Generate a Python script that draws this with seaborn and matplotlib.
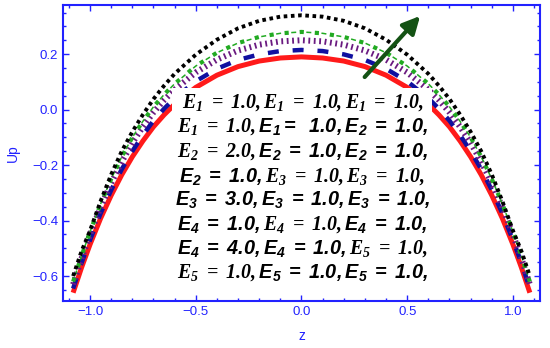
import numpy as np
import pandas as pd
import matplotlib
matplotlib.use('Agg')
import matplotlib.pyplot as plt
from matplotlib.patches import Rectangle
from matplotlib.ticker import FuncFormatter
import seaborn as sns

# velocity profiles Up(z) (symmetric about z = 0)
z_half = [0.0, 0.1, 0.2, 0.3, 0.4, 0.5, 0.6, 0.65, 0.7, 0.75, 0.8, 0.85, 0.9, 0.95, 1.0, 1.04, 1.08]
up_red = [0.190, 0.186, 0.175, 0.155, 0.124, 0.080, 0.019, -0.019, -0.062, -0.113, -0.170,
          -0.235, -0.309, -0.392, -0.486, -0.569, -0.660]
up_blue = [0.215, 0.211, 0.199, 0.179, 0.147, 0.102, 0.041, 0.003, -0.040, -0.092, -0.150,
           -0.215, -0.290, -0.374, -0.470, -0.552, -0.645]
up_purple = [0.250, 0.246, 0.234, 0.213, 0.180, 0.134, 0.072, 0.034, -0.010, -0.062, -0.120,
             -0.188, -0.265, -0.352, -0.450, -0.536, -0.630]
up_green = [0.280, 0.275, 0.262, 0.240, 0.205, 0.157, 0.093, 0.054, 0.010, -0.042, -0.100,
            -0.170, -0.250, -0.340, -0.440, -0.527, -0.620]
up_black = [0.340, 0.335, 0.320, 0.293, 0.252, 0.198, 0.129, 0.086, 0.038, -0.018, -0.080,
            -0.150, -0.234, -0.330, -0.436, -0.510, -0.600]

# text block lines: (segment, font) with 'r' = serif, 's' = sans
text_lines = [
    [('E_1 = 1.0,', 'r'), ('E_1 = 1.0,', 'r'), ('E_1 = 1.0,', 'r')],
    [('E_1 = 1.0,', 'r'), ('E_1 =\\ \\ 1.0,', 's'), ('E_2 = 1.0,', 's')],
    [('E_2 = 2.0,', 'r'), ('E_2 = 1.0,', 's'), ('E_2 = 1.0,', 's')],
    [('E_2 = 1.0,', 's'), ('E_3 = 1.0,', 'r'), ('E_3 = 1.0,', 'r')],
    [('E_3 = 3.0,', 's'), ('E_3 = 1.0,', 's'), ('E_3 = 1.0,', 's')],
    [('E_4 = 1.0,', 's'), ('E_4 = 1.0,', 'r'), ('E_4 = 1.0,', 's')],
    [('E_4 = 4.0,', 's'), ('E_4 = 1.0,', 's'), ('E_5 = 1.0,', 'r')],
    [('E_5 = 1.0,', 'r'), ('E_5 = 1.0,', 's'), ('E_5 = 1.0,', 's')],
]


def mirror(zh, uh):
    z = [-v for v in zh[::-1]] + zh[1:]
    u = uh[::-1] + uh[1:]
    return z, u


sns.set_style('ticks')
plt.rcParams['font.family'] = ['Liberation Sans', 'DejaVu Sans']
plt.rcParams['mathtext.fontset'] = 'custom'
plt.rcParams['mathtext.rm'] = 'Liberation Serif:italic:bold'
plt.rcParams['mathtext.it'] = 'Liberation Serif:italic:bold'
plt.rcParams['mathtext.sf'] = 'Liberation Sans:italic:bold'
plt.rcParams['lines.scale_dashes'] = False

blue_ax = '#2222ff'

fig = plt.figure(figsize=(5.5, 3.48), dpi=100)
ax = fig.add_axes([0.1145, 0.135, 0.8673, 0.8506])

# curve styles (linewidths / dashes in points)
styles = [
    (up_red, dict(color='#ff1a1a', lw=3.6, ls='-')),
    (up_blue, dict(color='#1010a0', lw=3.2, ls=(0, (7.9, 10.0)))),
    (up_purple, dict(color='#6a1a80', lw=4.3, ls=(0, (1.3, 2.6)))),
    (up_green, dict(color='#22aa22', lw=3.0, ls=(0, (3.0, 7.9)))),
    (up_green, dict(color='#22aa22', lw=1.1, ls=(6.1, (3.6, 7.3)))),
    (up_black, dict(color='black', lw=2.8, ls=(0, (2.6, 2.6)))),
]
for vals, kw in styles:
    z, u = mirror(z_half, vals)
    df = pd.DataFrame({'z': z, 'Up': u})
    sns.lineplot(data=df, x='z', y='Up', ax=ax, sort=False, solid_capstyle='butt',
                 dash_capstyle='butt', **kw)

ax.set_xlim(-1.128, 1.128)
ax.set_ylim(-0.69, 0.377)
ax.set_xticks([-1.0, -0.5, 0.0, 0.5, 1.0])
ax.set_yticks([-0.6, -0.4, -0.2, 0.0, 0.2])
ax.set_xticks(np.arange(-1.1, 1.11, 0.1), minor=True)
ax.set_yticks(np.arange(-0.65, 0.36, 0.05), minor=True)
fmt = FuncFormatter(lambda v, p: ('%.1f' % v).replace('-', '\u2212'))
ax.xaxis.set_major_formatter(fmt)
ax.yaxis.set_major_formatter(fmt)
ax.tick_params(which='both', direction='in', top=True, right=True,
               color=blue_ax, labelcolor=blue_ax, labelsize=9.5, width=1.0)
ax.tick_params(which='major', length=4)
ax.tick_params(which='minor', length=2.2)
for sp in ax.spines.values():
    sp.set_color(blue_ax)
    sp.set_linewidth(1.5)
ax.set_xlabel('z', color=blue_ax, fontsize=10)
ax.set_ylabel('Up', color=blue_ax, fontsize=10)
ax.yaxis.set_label_coords(-0.09, 0.5)
ax.xaxis.set_label_coords(0.5, -0.095)

# white panel with the parameter list
ax.add_patch(Rectangle((0.2285, 0.03), 0.545, 0.69, transform=ax.transAxes,
                       facecolor='white', edgecolor='none', zorder=5))
baselines = [108, 132, 157, 182, 206, 230, 254, 278]
for segs, py in zip(text_lines, baselines):
    parts = []
    for s, f in segs:
        s = s.replace(' = ', '\\ =\\ ')
        parts.append(s if f == 'r' else '\\mathsf{' + s + '}')
    txt = '$' + ''.join(parts) + '$'
    ax.text(0.502, (301 - py) / 296, txt, transform=ax.transAxes, ha='center',
            va='baseline', fontsize=14.3, color='black', zorder=6)

ax.annotate('', xy=(0.57, 0.345), xytext=(0.29, 0.11),
            arrowprops=dict(arrowstyle='-|>', color='#145214', lw=3, mutation_scale=26),
            zorder=7)

fig.savefig('out.png', dpi=100)
